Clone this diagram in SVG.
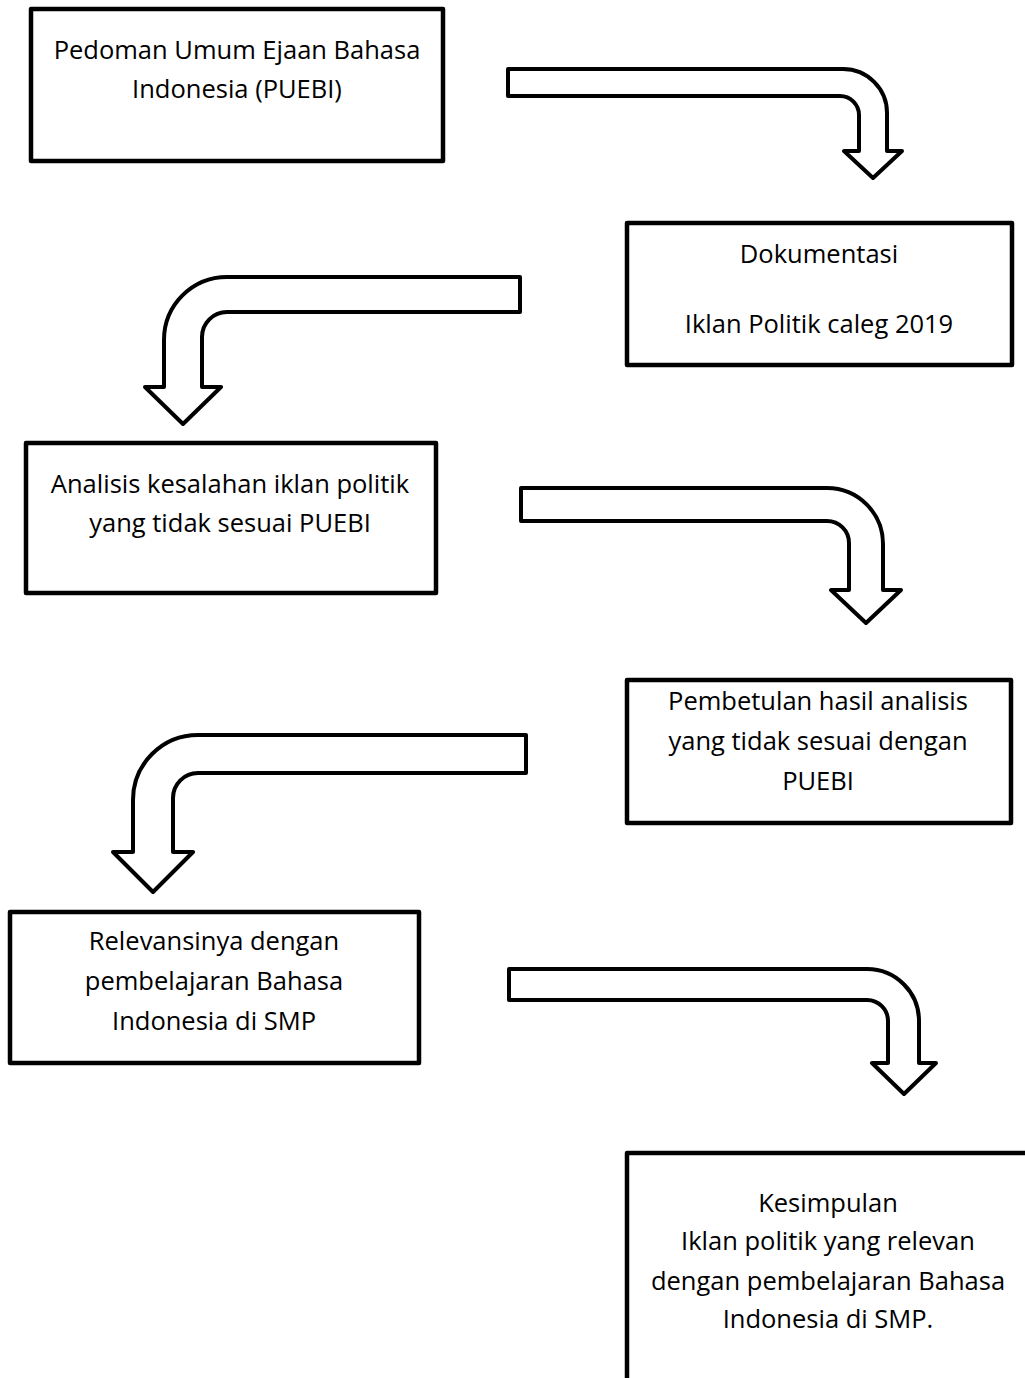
<svg xmlns="http://www.w3.org/2000/svg" width="1025" height="1378" viewBox="0 0 1025 1378">
<style>
.box{fill:#fff;stroke:#000;stroke-width:4.5;stroke-linejoin:round}
.arr{fill:#fff;stroke:#000;stroke-width:4;stroke-linejoin:round}
.t{font-family:"Open Sans","Liberation Sans",sans-serif;font-size:25.5px;fill:#000;text-anchor:middle}
</style>
<rect width="1025" height="1378" fill="#fff"/>
<g id="connectors">
<path class="arr" d="M508,69 H843 A44,44 0 0 1 887,113 V151 H902 L873,178 L844,151 H859 V115 A19,19 0 0 0 840,96 H508 Z"/>
<path class="arr" d="M520,277 H227 A63,63 0 0 0 164,340 V387 H145 L183,424 L221,387 H202 V337 A25,25 0 0 1 227,312 H520 Z"/>
<path class="arr" d="M521,488 H827 A56,56 0 0 1 883,544 V590 H901 L866,623 L831,590 H849 V543 A22,22 0 0 0 827,521 H521 Z"/>
<path class="arr" d="M526,735 H198 A65,65 0 0 0 133,800 V852 H113 L153,892 L193,852 H173 V798 A25,25 0 0 1 198,773 H526 Z"/>
<path class="arr" d="M509,969 H867 A52,52 0 0 1 919,1021 V1063 H936 L904,1094 L872,1063 H888 V1021 A21,21 0 0 0 867,1000 H509 Z"/>
</g>
<g id="n1">
<rect class="box" x="31" y="9" width="412" height="152"/>
<text class="t" x="237" y="59">Pedoman Umum Ejaan Bahasa</text>
<text class="t" x="237" y="98">Indonesia (PUEBI)</text>
</g>
<g id="n2">
<rect class="box" x="627" y="223" width="385" height="142"/>
<text class="t" x="819" y="263">Dokumentasi</text>
<text class="t" x="819" y="333">Iklan Politik caleg 2019</text>
</g>
<g id="n3">
<rect class="box" x="26" y="443" width="410" height="150"/>
<text class="t" x="230" y="493">Analisis kesalahan iklan politik</text>
<text class="t" x="230" y="532">yang tidak sesuai PUEBI</text>
</g>
<g id="n4">
<rect class="box" x="627" y="680" width="384" height="143"/>
<text class="t" x="818" y="710">Pembetulan hasil analisis</text>
<text class="t" x="818" y="750">yang tidak sesuai dengan</text>
<text class="t" x="818" y="790">PUEBI</text>
</g>
<g id="n5">
<rect class="box" x="10" y="912" width="409" height="151"/>
<text class="t" x="214" y="950">Relevansinya dengan</text>
<text class="t" x="214" y="990">pembelajaran Bahasa</text>
<text class="t" x="214" y="1030">Indonesia di SMP</text>
</g>
<g id="n6">
<rect class="box" x="627" y="1153" width="420" height="260"/>
<text class="t" x="828" y="1212">Kesimpulan</text>
<text class="t" x="828" y="1250">Iklan politik yang relevan</text>
<text class="t" x="828" y="1290">dengan pembelajaran Bahasa</text>
<text class="t" x="828" y="1328">Indonesia di SMP.</text>
</g>
</svg>
